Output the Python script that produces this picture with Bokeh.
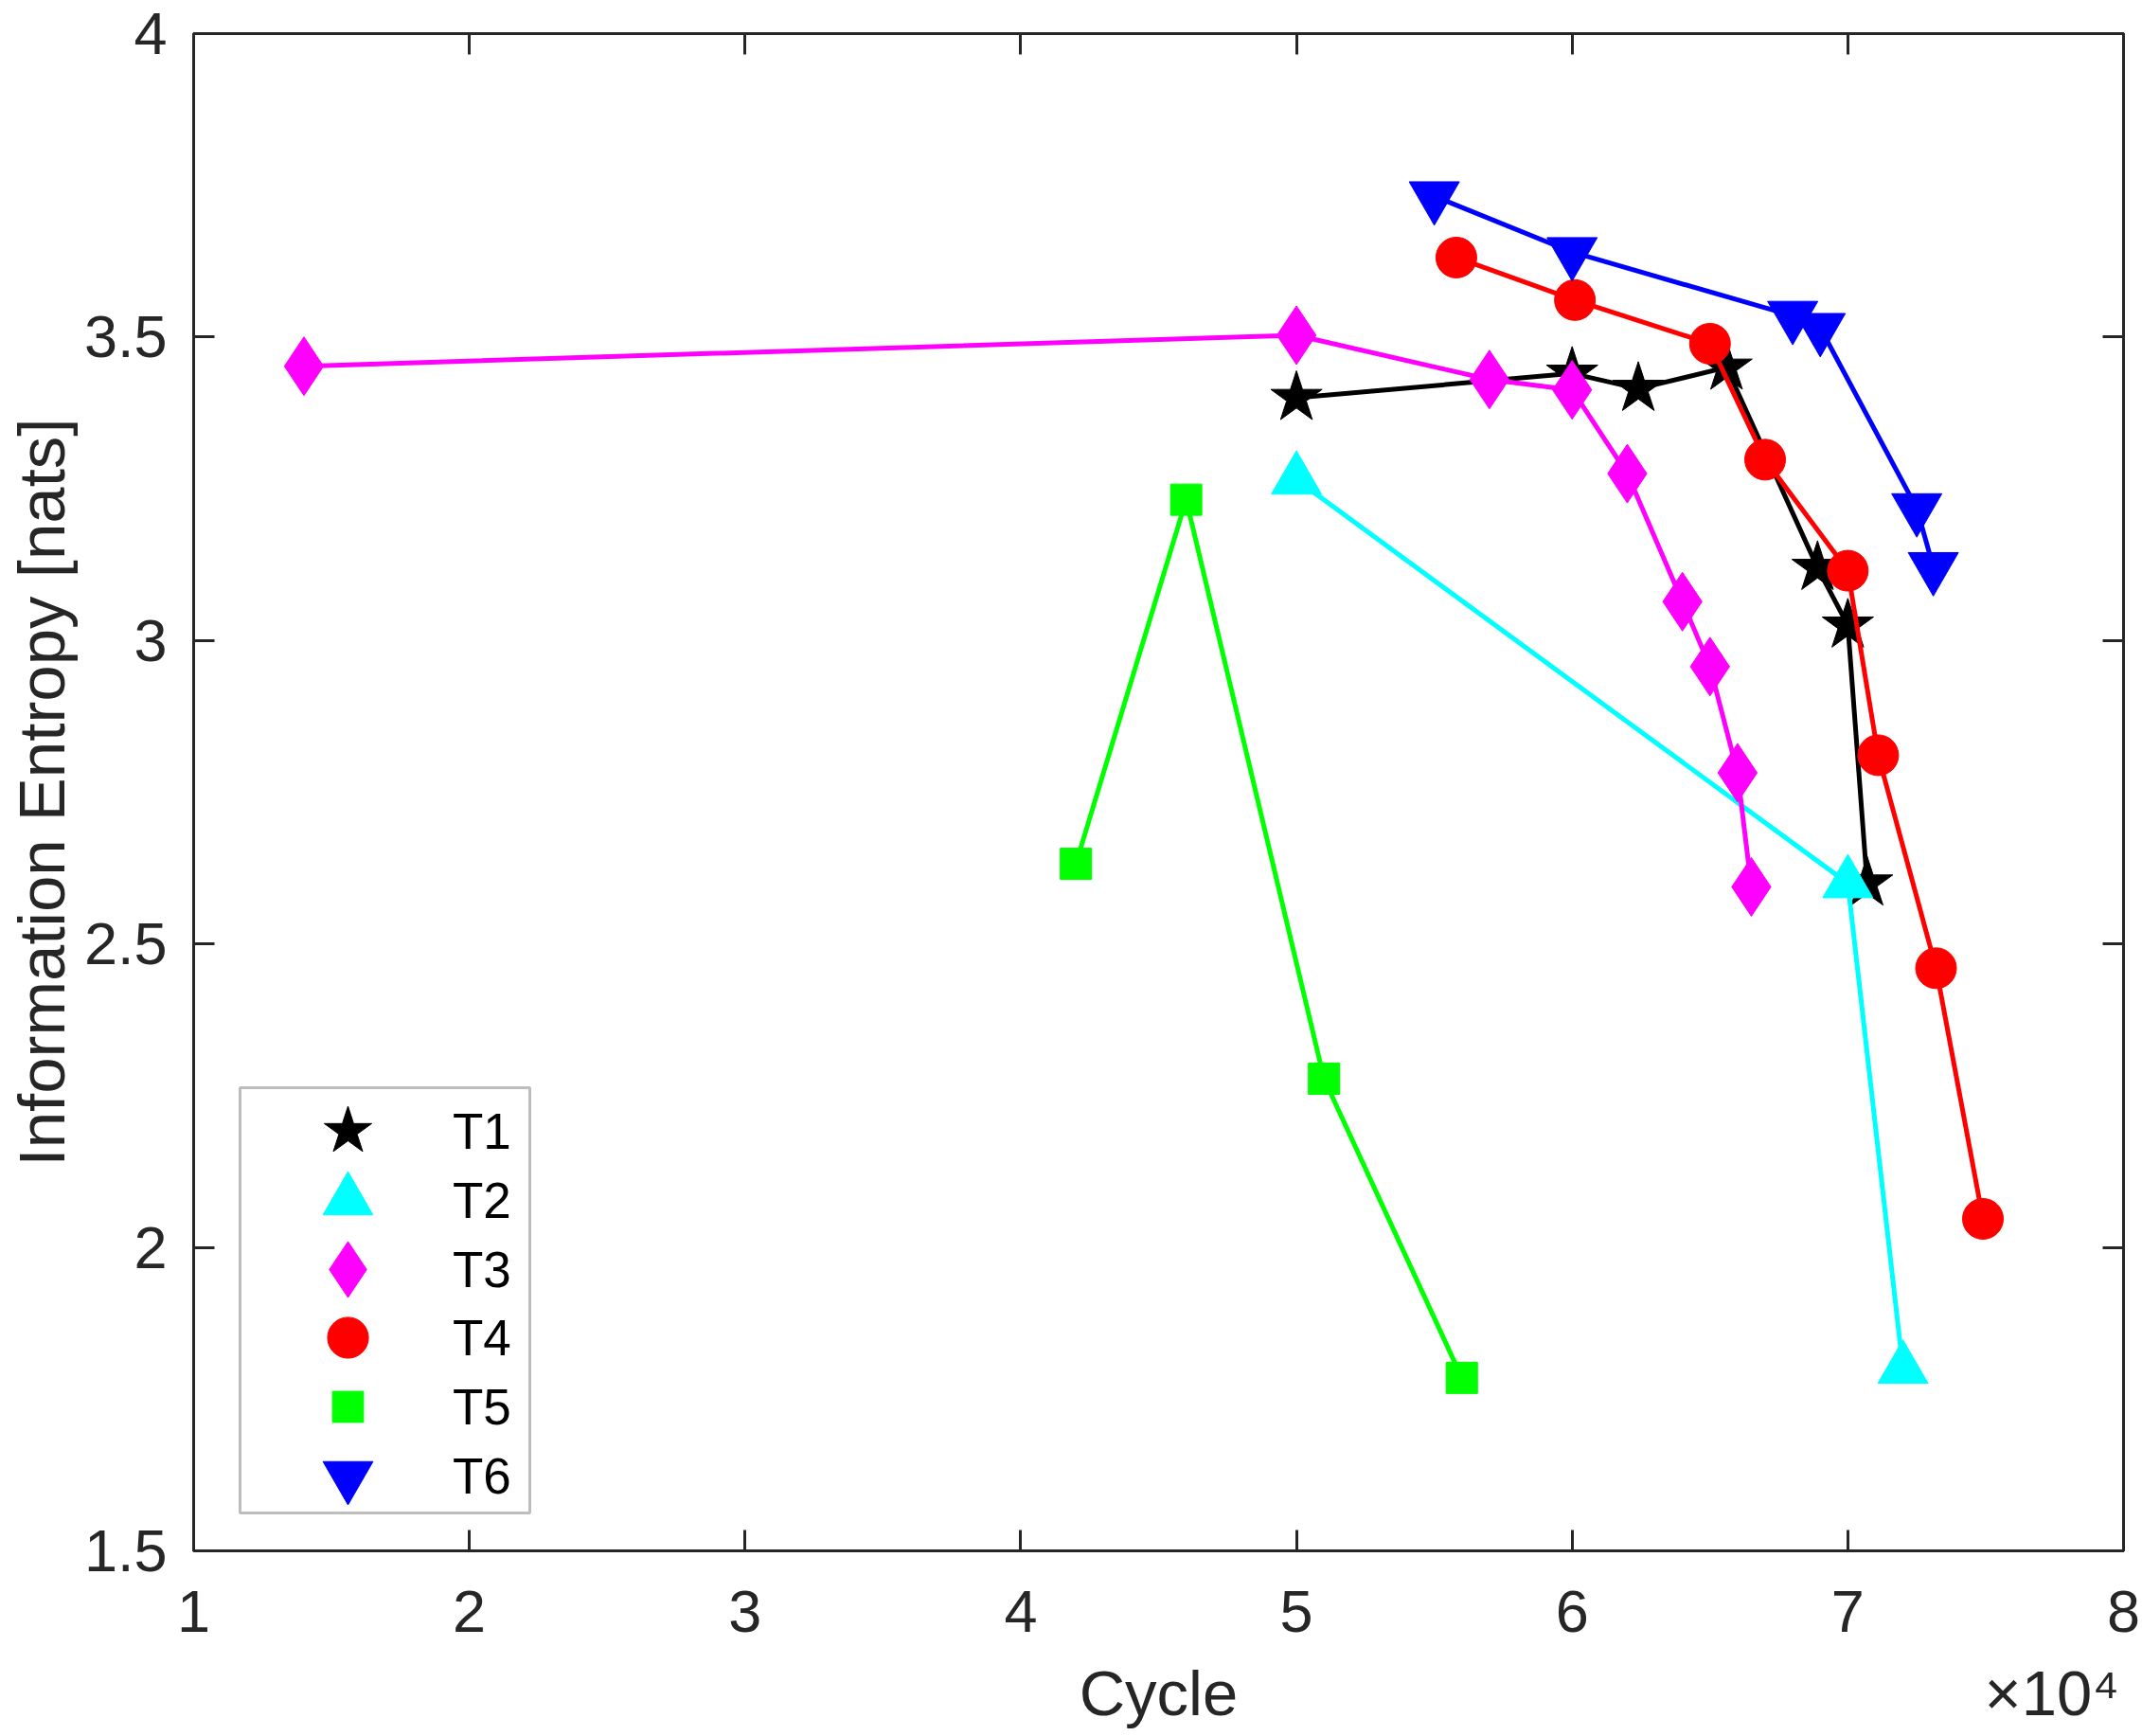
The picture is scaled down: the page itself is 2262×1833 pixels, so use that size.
from bokeh.plotting import figure
from bokeh.models import (Range1d, FixedTicker, LinearAxis, Legend, LegendItem,
                          BoxAnnotation)
from bokeh.embed import file_html
from bokeh.resources import INLINE

# ---------------- data ----------------
series_names = ["T1", "T2", "T3", "T4", "T5", "T6"]

t1_x = [50000, 60000, 62400, 65600, 68900, 70000, 70700]
t1_y = [3.400, 3.440, 3.415, 3.450, 3.120, 3.025, 2.600]

t2_x = [50000, 70000, 72000]
t2_y = [3.265, 2.600, 1.800]

t3_x = [14000, 50000, 57000, 60000, 62000, 64000, 65000, 66000, 66500]
t3_y = [3.452, 3.503, 3.430, 3.413, 3.275, 3.064, 2.957, 2.782, 2.594]

t4_x = [55800, 60100, 65000, 67000, 70000, 71100, 73200, 74900]
t4_y = [3.631, 3.561, 3.489, 3.298, 3.115, 2.811, 2.460, 2.047]

t5_x = [42000, 46000, 51000, 56000]
t5_y = [2.632, 3.232, 2.278, 1.785]

t6_x = [55000, 60000, 68000, 69000, 72500, 73100]
t6_y = [3.732, 3.640, 3.535, 3.515, 3.218, 3.121]

x_ticks = [10000, 20000, 30000, 40000, 50000, 60000, 70000, 80000]
x_tick_labels = ["1", "2", "3", "4", "5", "6", "7", "8"]
y_ticks = [1.5, 2.0, 2.5, 3.0, 3.5, 4.0]
y_tick_labels = ["1.5", "2", "2.5", "3", "3.5", "4"]

x_label = "Cycle"
y_label = "Information Entropy [nats]"
exp_label = "\u00d710\u2074"

# ---------------- styles ----------------
FONT = "Liberation Sans"
AX = "#262626"
colors = ["#000000", "#00FFFF", "#FF00FF", "#FF0000", "#00FF00", "#0000FF"]
markers = ["star", "triangle", "diamond", "circle", "square", "inverted_triangle"]
plot_sizes = [57, 53, 62, 43, 33, 53]
legend_sizes = [53, 53, 59, 43, 33, 53]

xs = [t1_x, t2_x, t3_x, t4_x, t5_x, t6_x]
ys = [t1_y, t2_y, t3_y, t4_y, t5_y, t6_y]

X_MIN, X_MAX = 10000, 80000
p = figure(width=2262, height=1833,
           x_range=Range1d(X_MIN, X_MAX), y_range=Range1d(1.5, 4.0),
           output_backend="svg", toolbar_location=None,
           min_border_left=204, min_border_right=20,
           min_border_top=35, min_border_bottom=196)
p.background_fill_color = "white"
p.border_fill_color = "white"
p.xgrid.grid_line_color = None
p.ygrid.grid_line_color = None
p.outline_line_color = AX
p.outline_line_width = 3


def style_axis(ax, ticks, labels, show_labels=True):
    ax.ticker = FixedTicker(ticks=ticks)
    ax.major_label_overrides = {t: l for t, l in zip(ticks, labels)}
    ax.major_tick_in = 22
    ax.major_tick_out = 0
    ax.major_tick_line_width = 3
    ax.major_tick_line_color = AX
    ax.minor_tick_line_color = None
    ax.axis_line_width = 3
    ax.axis_line_color = AX
    ax.major_label_text_font = FONT
    if show_labels:
        ax.major_label_text_font_size = "63px"
        ax.major_label_text_color = AX
    else:
        ax.major_label_text_font_size = "0px"
        ax.major_label_text_color = None
        ax.major_label_standoff = 0


xax = p.xaxis[0]
yax = p.yaxis[0]
style_axis(xax, x_ticks, x_tick_labels)
style_axis(yax, y_ticks, y_tick_labels)
xax.major_label_standoff = 42
yax.major_label_standoff = 28
yax.axis_label = y_label
yax.axis_label_text_font = FONT
yax.axis_label_text_font_size = "69px"
yax.axis_label_text_font_style = "normal"
yax.axis_label_text_color = AX
yax.axis_label_standoff = 3

# second row under the x axis: "Cycle" centred under the frame and the
# x10^4 multiplier at the right end, both in one text row
cycle_pos = (X_MIN + X_MAX) / 2
exp_pos = 77400
label_ax = LinearAxis(ticker=FixedTicker(ticks=[cycle_pos, exp_pos]))
label_ax.major_label_overrides = {cycle_pos: x_label, exp_pos: exp_label}
label_ax.axis_line_color = None
label_ax.major_tick_line_color = None
label_ax.minor_tick_line_color = None
label_ax.major_tick_in = 0
label_ax.major_tick_out = 0
label_ax.major_label_standoff = 24
label_ax.major_label_text_font = FONT
label_ax.major_label_text_font_size = "67px"
label_ax.major_label_text_color = AX
p.add_layout(label_ax, "below")

top_ax = LinearAxis()
style_axis(top_ax, x_ticks, x_tick_labels, show_labels=False)
p.add_layout(top_ax, "above")
right_ax = LinearAxis()
style_axis(right_ax, y_ticks, y_tick_labels, show_labels=False)
p.add_layout(right_ax, "right")

scatter_renderers = []
for x, y, c, m, s in zip(xs, ys, colors, markers, plot_sizes):
    p.line(x, y, line_color=c, line_width=5)
    r = p.scatter(x, y, marker=m, size=s, fill_color=c, line_color=c, line_width=1)
    scatter_renderers.append(r)

# legend frame
box = BoxAnnotation(left=49, right=355, bottom=40, top=489,
                    left_units="screen", right_units="screen",
                    bottom_units="screen", top_units="screen",
                    fill_color="white", fill_alpha=1.0,
                    line_color=AX, line_width=3)
p.add_layout(box)

row_dist = [443, 370, 297, 225, 152, 79]
for name, r, ls, d in zip(series_names, scatter_renderers, legend_sizes, row_dist):
    gh = int(round(ls / 0.4))
    leg = Legend(items=[LegendItem(label=name, renderers=[r])],
                 location=(52, int(round(d - gh / 2))),
                 glyph_width=222, glyph_height=gh,
                 padding=0, margin=0, spacing=0, label_standoff=0,
                 border_line_color=None, background_fill_alpha=0,
                 label_text_font=FONT, label_text_font_size="53px",
                 label_text_color="#000000")
    p.add_layout(leg)

open("out.html", "w").write(file_html(p, INLINE))
